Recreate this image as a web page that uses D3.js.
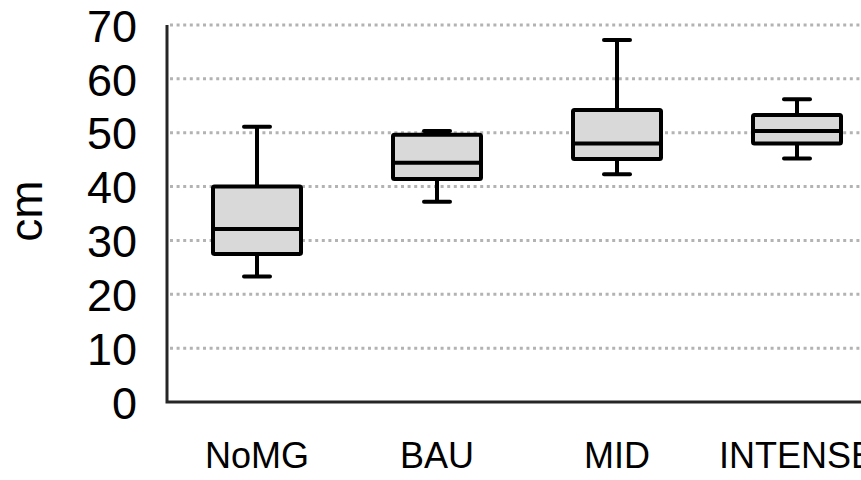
<!DOCTYPE html>
<html>
<head>
<meta charset="utf-8">
<script src="https://cdn.jsdelivr.net/npm/d3@7"></script>
<style>
  html, body { margin: 0; padding: 0; background: #fff; }
  svg { display: block; }
  text { font-family: "Liberation Sans", Arial, sans-serif; fill: #000; }
</style>
</head>
<body>
<svg id="chart" width="861" height="480"></svg>
<script>
// ---- data ----
const categories = ["NoMG", "BAU", "MID", "INTENSE"];
const whiskerLow  = [23.3, 37.2, 42.3, 45.2];
const quart1      = [27.5, 41.4, 45.1, 48.0];
const medians     = [32.1, 44.4, 48.0, 50.3];
const quart3      = [40.0, 49.6, 54.2, 53.3];
const whiskerHigh = [51.1, 50.3, 67.2, 56.2];
const yTicks = [0, 10, 20, 30, 40, 50, 60, 70];
const yLabel = "cm";

(function () {
const svg = d3.select("#chart");
const W = 861;
const plotLeft = 167, plotTop = 25, plotBottom = 402, bandW = 180;

const y = d3.scaleLinear().domain([0, 70]).range([plotBottom, plotTop]);
const x = d3.scaleBand().domain(categories).range([plotLeft, plotLeft + bandW * categories.length]).padding(0);

// gridlines (dotted)
svg.append("g").selectAll("line").data(yTicks.filter(d => d > 0)).join("line")
  .attr("x1", plotLeft + 3).attr("x2", W)
  .attr("y1", d => y(d)).attr("y2", d => y(d))
  .attr("stroke", "#b3b3b3").attr("stroke-width", 3)
  .attr("stroke-dasharray", "3,3.6");

// y axis tick labels
const yAxis = d3.axisLeft(y).tickValues(yTicks).tickSize(0).tickPadding(0);
const gy = svg.append("g").attr("transform", `translate(137,0)`).call(yAxis);
gy.select(".domain").remove();
gy.selectAll("text").attr("font-size", 45).attr("fill", "#000")
  .attr("font-family", "'Liberation Sans', Arial, sans-serif")
  .attr("dy", "0.36em");

// axis lines
svg.append("path")
  .attr("d", `M${plotLeft},${plotTop} L${plotLeft},${plotBottom} L${W + 5},${plotBottom}`)
  .attr("fill", "none").attr("stroke", "#262626").attr("stroke-width", 3);

// y label
svg.append("text")
  .attr("transform", `translate(42,211) rotate(-90)`)
  .attr("text-anchor", "middle")
  .attr("font-size", 46)
  .text(yLabel);

// x labels
const xAxis = d3.axisBottom(x).tickSize(0).tickPadding(0);
const gx = svg.append("g").attr("transform", `translate(0,442)`).call(xAxis);
gx.select(".domain").remove();
gx.selectAll("text").attr("font-size", 36).attr("fill", "#000")
  .attr("font-family", "'Liberation Sans', Arial, sans-serif")
  .attr("dy", "0.71em");

// boxes
const boxW = 88, capW = 26;
const rows = categories.map((c, i) => ({
  c, lo: whiskerLow[i], q1: quart1[i], med: medians[i], q3: quart3[i], hi: whiskerHigh[i]
}));
const g = svg.append("g").selectAll("g").data(rows).join("g")
  .attr("transform", d => `translate(${x(d.c) + x.bandwidth() / 2},0)`);

g.append("line").attr("x1", 0).attr("x2", 0)
  .attr("y1", d => y(d.hi)).attr("y2", d => y(d.q3))
  .attr("stroke", "#000").attr("stroke-width", 4);
g.append("line").attr("x1", 0).attr("x2", 0)
  .attr("y1", d => y(d.q1)).attr("y2", d => y(d.lo))
  .attr("stroke", "#000").attr("stroke-width", 4);
g.append("line").attr("x1", -capW / 2).attr("x2", capW / 2)
  .attr("y1", d => y(d.hi)).attr("y2", d => y(d.hi))
  .attr("stroke", "#000").attr("stroke-width", 4).attr("stroke-linecap", "round");
g.append("line").attr("x1", -capW / 2).attr("x2", capW / 2)
  .attr("y1", d => y(d.lo)).attr("y2", d => y(d.lo))
  .attr("stroke", "#000").attr("stroke-width", 4).attr("stroke-linecap", "round");
g.append("rect")
  .attr("x", -boxW / 2).attr("width", boxW)
  .attr("y", d => y(d.q3)).attr("height", d => y(d.q1) - y(d.q3))
  .attr("fill", "#d9d9d9").attr("stroke", "#000").attr("stroke-width", 4)
  .attr("rx", 1.5);
g.append("line").attr("x1", -boxW / 2).attr("x2", boxW / 2)
  .attr("y1", d => y(d.med)).attr("y2", d => y(d.med))
  .attr("stroke", "#000").attr("stroke-width", 4);
})();
</script>
</body>
</html>
